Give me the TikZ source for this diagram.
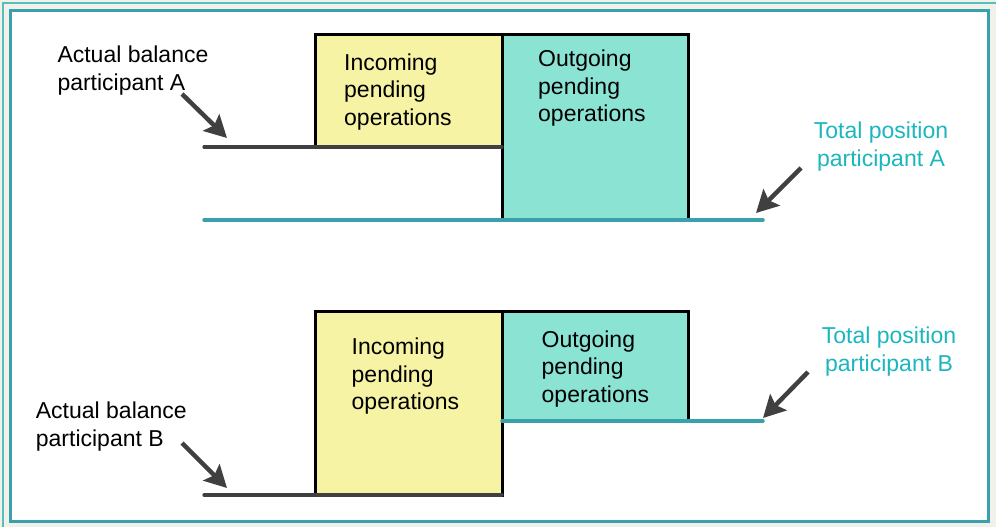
\documentclass[tikz,border=0pt]{standalone}
\usepackage{fontspec}
\setmainfont{Liberation Sans}
\usepackage{xcolor}
\usetikzlibrary{arrows.meta,positioning}
\definecolor{PageGrey}{HTML}{F1F1EC}
\definecolor{FrameTeal}{HTML}{3AA0AC}
\definecolor{FrameLight}{HTML}{55C0BA}
\definecolor{InYellow}{HTML}{F7F3A5}
\definecolor{OutTeal}{HTML}{8AE3D3}
\definecolor{LabelTeal}{HTML}{1BB6BE}
\definecolor{LineGrey}{HTML}{404040}

\begin{document}
\begin{tikzpicture}[
  x=1pt, y=-1pt,
  inbox/.style={draw=black,line width=3pt,fill=InYellow,inner sep=0pt,outer sep=0pt,
    minimum width=187pt,anchor=north west},
  outbox/.style={draw=black,line width=3pt,fill=OutTeal,inner sep=0pt,outer sep=0pt,
    minimum width=186pt,anchor=north west},
  boxtext/.style={inner sep=0pt,align=left,anchor=base west,
    font=\fontsize{23}{27.5}\selectfont},
  lbl/.style={inner sep=0pt,align=left,anchor=base west,
    font=\fontsize{23}{27.8}\selectfont},
  totlbl/.style={lbl,align=center,anchor=base,text=LabelTeal},
  balance/.style={LineGrey,line width=3.2pt,line cap=round},
  total/.style={FrameTeal,line width=3.5pt,line cap=round},
  pointer/.style={-{Stealth[length=22pt,width=23pt,inset=4pt]},LineGrey,line width=4.5pt}
]
  \useasboundingbox (0,0) rectangle (996,527);
  % frame
  \fill[PageGrey] (0,0) rectangle (996,527);
  \draw[FrameLight,line width=1.5pt] (3,527) -- (3,3) -- (996,3);
  \draw[FrameTeal,line width=3.5pt,fill=white] (10.5,10.5) rectangle (988.5,521.5);

  % participant A
  \node[inbox, minimum height=112pt] (inA) at (315,35) {};
  \node[outbox, minimum height=185pt] (outA) at (inA.north east) {};
  \node[boxtext] at (344,125) {Incoming\\pending\\operations};
  \node[boxtext] at (538,121.5) {Outgoing\\pending\\operations};
  \node[lbl] (actA) at (57.3,90) {Actual balance\\participant A};
  \node[totlbl] (totA) at (881,166.7) {Total position\\participant A};

  \coordinate (balA) at (204,147);
  \coordinate (totAstart) at (204,220);
  \coordinate (totAend) at (763,220);
  \draw[balance] (balA) -- (inA.south east);
  \draw[total] (totAstart) -- (totAend);

  \coordinate (actAtail) at (182,94);
  \coordinate (actAtip) at (227,138);
  \coordinate (totAtail) at (801,168);
  \coordinate (totAtip) at (756,213);
  \draw[pointer] (actAtail) -- (actAtip);
  \draw[pointer] (totAtail) -- (totAtip);

  % participant B
  \node[inbox, minimum height=184pt] (inB) at (315,311) {};
  \node[outbox, minimum height=110pt] (outB) at (inB.north east) {};
  \node[boxtext] at (351.5,409.5) {Incoming\\pending\\operations};
  \node[boxtext] at (541.5,402) {Outgoing\\pending\\operations};
  \node[lbl] (actB) at (35.7,446.7) {Actual balance\\participant B};
  \node[totlbl] (totB) at (889,371.5) {Total position\\participant B};

  \coordinate (balB) at (204,495);
  \coordinate (totBend) at (763,421);
  \draw[balance] (balB) -- (inB.south east);
  \draw[total] (outB.south west) -- (totBend);

  \coordinate (actBtail) at (182,443);
  \coordinate (actBtip) at (227,488);
  \coordinate (totBtail) at (808,372);
  \coordinate (totBtip) at (763,418);
  \draw[pointer] (actBtail) -- (actBtip);
  \draw[pointer] (totBtail) -- (totBtip);
\end{tikzpicture}
\end{document}
